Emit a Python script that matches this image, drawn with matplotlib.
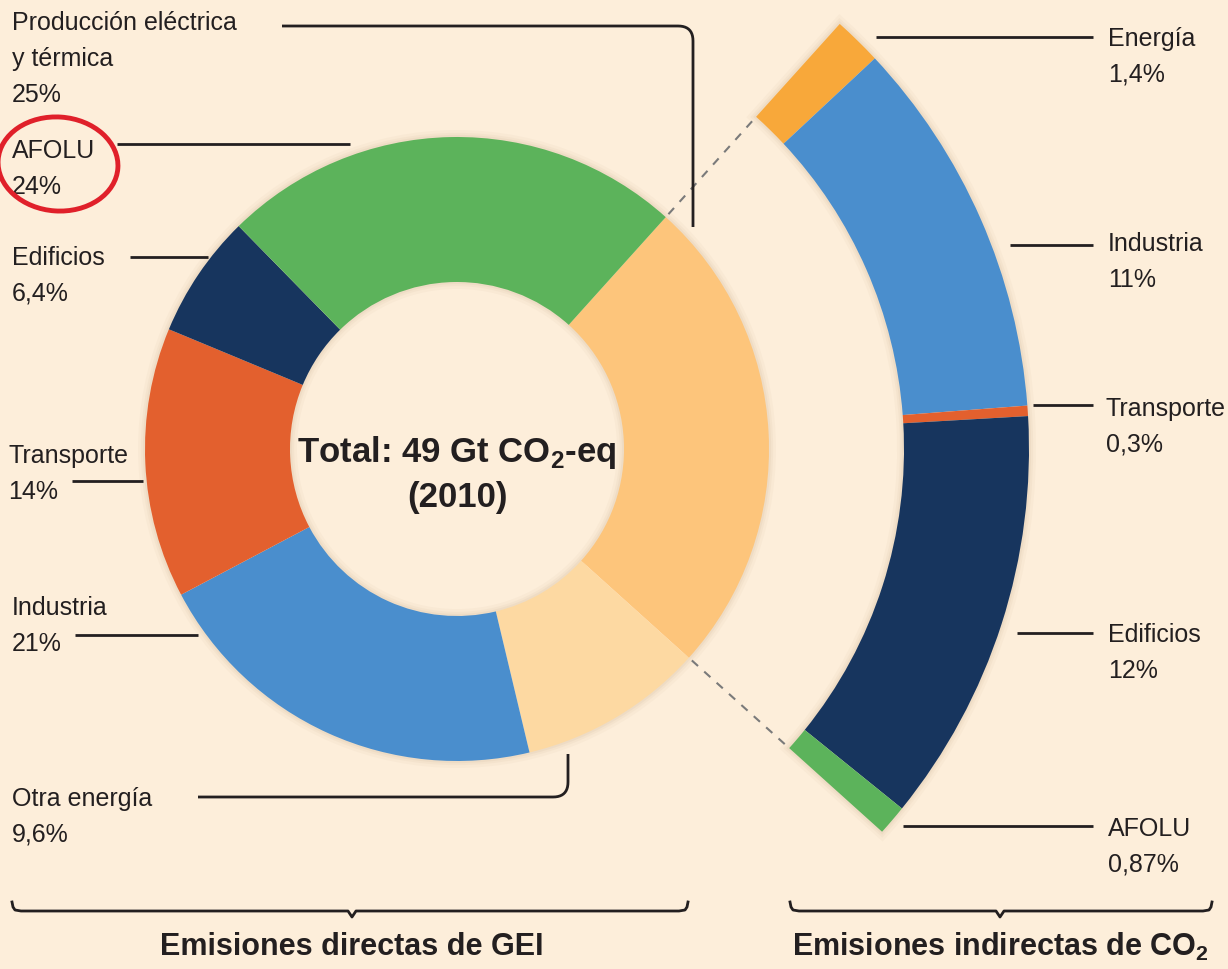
import numpy as np
import matplotlib.pyplot as plt
from matplotlib.patches import Ellipse, Wedge

plt.rcParams["font.family"] = ["Liberation Sans Narrow", "Liberation Sans", "DejaVu Sans"]
plt.rcParams["mathtext.fontset"] = "custom"
plt.rcParams["mathtext.rm"] = "Liberation Sans"
plt.rcParams["mathtext.bf"] = "Liberation Sans:bold"

# direct emissions (ring)
direct_names = ["Producción eléctrica\ny térmica", "Otra energía", "Industria",
                "Transporte", "Edificios", "AFOLU"]
direct_pct = [25, 9.6, 21, 14, 6.4, 24]
direct_txt = ["25%", "9,6%", "21%", "14%", "6,4%", "24%"]
direct_colors = ["#FDC57B", "#FDD9A2", "#4A8ECD", "#E3602E", "#17355E", "#5CB35B"]

# indirect CO2 emissions (exploded arc)
indirect_names = ["Energía", "Industria", "Transporte", "Edificios", "AFOLU"]
indirect_pct = [1.4, 11, 0.3, 12, 0.87]
indirect_txt = ["1,4%", "11%", "0,3%", "12%", "0,87%"]
indirect_colors = ["#F8A83A", "#4A8ECD", "#E3602E", "#17355E", "#5CB35B"]

BG = "#FDEEDA"
INK = "#231F20"
W, H = 1228, 970


def Y(y):
    return H - y


fig = plt.figure(figsize=(W / 100, H / 100), dpi=100, facecolor=BG)
ax = fig.add_axes([0, 0, 1, 1])
ax.set_facecolor(BG)

CX, CY = 457, Y(450)
R_OUT, R_IN = 312, 167
R2_OUT, R2_IN = 572, 447
START = 48
span = direct_pct[0]
end = START - span / 100 * 360

# faint soft shadow behind ring and arc
for lw, al in [(10, 0.07), (6, 0.09), (3, 0.12)]:
    ax.add_patch(Wedge((CX, CY), R_OUT, 0, 360, width=R_OUT - R_IN, facecolor="none",
                       edgecolor="#C9AE8C", lw=lw, alpha=al, zorder=0.5))
    ax.add_patch(Wedge((CX, CY), R2_OUT, end, START, width=R2_OUT - R2_IN,
                       facecolor="none", edgecolor="#C9AE8C", lw=lw, alpha=al,
                       zorder=0.5))

ax.pie(direct_pct, colors=direct_colors, startangle=START, counterclock=False,
       radius=R_OUT, center=(CX, CY), frame=True,
       wedgeprops=dict(width=R_OUT - R_IN, linewidth=0))

scaled = [v / sum(indirect_pct) * span for v in indirect_pct] + [100 - span]
wedges, _ = ax.pie(scaled, colors=indirect_colors + ["none"], startangle=START,
                   counterclock=False, radius=R2_OUT, center=(CX, CY), frame=True,
                   wedgeprops=dict(width=R2_OUT - R2_IN, linewidth=0))
wedges[-1].set_visible(False)

# dashed connectors
for a in [START, end]:
    t = np.radians(a)
    ax.plot([CX + (R_OUT + 4) * np.cos(t), CX + (R2_IN - 4) * np.cos(t)],
            [CY + (R_OUT + 4) * np.sin(t), CY + (R2_IN - 4) * np.sin(t)],
            ls=(0, (4, 4)), color="#7A7A7A", lw=1.5)

ax.set_xlim(0, W)
ax.set_ylim(0, H)
ax.set_aspect("equal")
ax.axis("off")


def leader(pts, r=15):
    # polyline with rounded corners, pts in image coords
    xs, ys = [pts[0][0]], [pts[0][1]]
    for i in range(1, len(pts) - 1):
        p0, p1, p2 = map(np.array, (pts[i - 1], pts[i], pts[i + 1]))
        d1 = (p1 - p0) / np.linalg.norm(p1 - p0)
        d2 = (p2 - p1) / np.linalg.norm(p2 - p1)
        a, b = p1 - d1 * r, p1 + d2 * r
        for u in np.linspace(0, 1, 12):
            q = (1 - u) ** 2 * a + 2 * (1 - u) * u * p1 + u ** 2 * b
            xs.append(q[0])
            ys.append(q[1])
    xs.append(pts[-1][0])
    ys.append(pts[-1][1])
    ax.plot(xs, [Y(v) for v in ys], color=INK, lw=2, solid_capstyle="butt")


FS = 18
LS = 1.62

left_pos = [(12, 11), (12, 787), (12, 596), (8, 444), (12, 246), (12, 139)]
left_lines = [
    [(282, 27), (693, 27), (693, 228)],
    [(198, 798), (568, 798), (568, 755)],
    [(75, 636), (198, 636)],
    [(72, 482), (143, 482)],
    [(130, 258), (208, 258)],
    [(117, 145), (350, 145)],
]
for name, pct, (x, y), pts in zip(direct_names, direct_txt, left_pos, left_lines):
    ax.text(x, Y(y), f"{name}\n{pct}", ha="left", va="top", fontsize=FS,
            color=INK, linespacing=LS)
    leader(pts)

right_pos = [(1108, 27), (1108, 232), (1106, 397), (1108, 623), (1108, 817)]
right_lines = [
    [(876, 38), (1093, 38)],
    [(1010, 246), (1093, 246)],
    [(1033, 406), (1093, 406)],
    [(1017, 634), (1093, 634)],
    [(903, 827), (1093, 827)],
]
for name, pct, (x, y), pts in zip(indirect_names, indirect_txt, right_pos, right_lines):
    ax.text(x, Y(y), f"{name}\n{pct}", ha="left", va="top", fontsize=FS,
            color=INK, linespacing=LS)
    leader(pts)

# red highlight around AFOLU
ax.add_patch(Ellipse((58, Y(165)), 120, 94, angle=-4, fill=False,
                     edgecolor="#E0202A", lw=3.5, zorder=3))

# center text
ax.text(CX, Y(474), "Total: 49 Gt CO$_\\mathbf{2}$-eq\n(2010)", ha="center",
        va="center", fontsize=25, fontweight="bold", color=INK, linespacing=1.35)


def bracket(x0, x1, xm, y=912):
    xs = [x0, x0 + 1, x0 + 3, x0 + 9, xm - 4, xm, xm + 4, x1 - 9, x1 - 3, x1 - 1, x1]
    ys = [903, 908, 911, 912, 912, 918, 912, 912, 911, 908, 903]
    ax.plot(xs, [Y(v) for v in ys], color=INK, lw=2)


bracket(12, 688, 352)
bracket(790, 1212, 1000)

ax.text(352, Y(947), "Emisiones directas de GEI", ha="center", va="center",
        fontsize=22, fontweight="bold", color=INK)
ax.text(1000, Y(947), "Emisiones indirectas de CO$_\\mathbf{2}$", ha="center",
        va="center", fontsize=22, fontweight="bold", color=INK)

fig.savefig("out.png", dpi=100, facecolor=BG)
